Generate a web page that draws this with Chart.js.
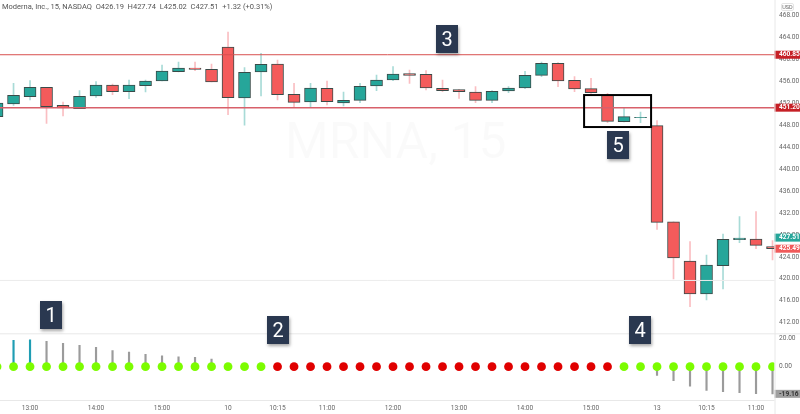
<!DOCTYPE html>
<html>
<head>
<meta charset="utf-8">
<title>MRNA 15</title>
<script src="https://cdn.jsdelivr.net/npm/chart.js@4/dist/chart.umd.min.js"></script>
<style>
body { margin: 0; background: #fff; font-family: Roboto, sans-serif; }
#wrap { position: relative; width: 800px; height: 414px; overflow: hidden; }
#mychart { position: absolute; left: 0; top: 0; }
.mark { position: absolute; color: rgba(0,0,0,0.02); white-space: nowrap; }
#header { position: absolute; left: 2px; top: 2px; font-size: 7.5px; color: #555; white-space: pre; }
#usd { position: absolute; left: 781px; top: 3px; width: 13px; height: 8px; font-size: 5.5px; line-height: 7px; text-align: center; color: #666; border: 1px solid #e4e4e4; border-radius: 2px; box-sizing: border-box; }
.num { position: absolute; width: 22px; height: 28px; background: #2a3850; color: #fff; font-size: 20px; line-height: 28px; text-align: center; box-shadow: 1px 2px 3px rgba(0,0,0,0.35); }
</style>
</head>
<body>
<div id="wrap">
    <div class="mark" style="left:285px;top:112px;font-size:50px">MRNA, 15</div>
    <div class="mark" style="left:312px;top:176px;font-size:23px">Moderna, Inc.</div>
    <canvas id="mychart" width="800" height="414"></canvas>
    <div id="header">Moderna, Inc., 15, NASDAQ  O426.19  H427.74  L425.02  C427.51  +1.32 (+0.31%)</div>
    <div id="usd">USD</div>
    <div class="num" style="left:40px;top:301px">1</div>
    <div class="num" style="left:267px;top:316px">2</div>
    <div class="num" style="left:436px;top:25px">3</div>
    <div class="num" style="left:629px;top:316px">4</div>
    <div class="num" style="left:607px;top:131px">5</div>
</div>
<script>
// candles
const opens = [449.56,451.87,453.20,454.91,451.62,451.02,453.33,455.33,454.11,455.21,456.06,457.76,458.43,458.19,462.26,452.96,457.70,459.16,453.63,452.23,454.72,452.05,452.53,455.15,456.24,457.40,457.27,454.72,454.48,454.05,452.53,454.24,454.78,457.09,459.28,456.18,454.66,453.51,448.65,449.38,447.92,430.41,423.24,417.23,422.39,427.13,427.25,425.86]
const highs = [452.60,455.63,456.12,454.91,452.23,454.30,455.94,455.51,456.24,456.24,458.98,459.52,459.52,459.16,465.00,458.49,461.10,459.89,455.63,455.63,456.06,454.05,455.63,457.15,458.67,458.06,457.94,456.24,454.54,455.03,454.30,455.03,457.82,459.52,459.40,456.85,456.55,453.81,451.26,450.41,448.83,430.41,426.77,424.34,428.17,431.33,432.24,426.95]
const lows = [449.25,451.62,452.60,448.34,449.68,451.02,453.08,453.57,452.84,454.05,456.06,457.70,457.94,455.88,449.92,448.03,453.33,452.60,451.38,451.26,451.68,451.50,452.11,454.30,456.12,455.63,454.42,454.11,452.90,452.11,452.11,453.93,454.66,456.85,455.03,454.11,453.81,448.46,448.59,448.46,429.02,419.96,414.92,416.13,418.14,426.59,425.49,423.43]
const closes = [452.05,453.45,454.91,451.38,451.14,453.26,455.33,454.11,455.33,456.06,457.88,458.43,458.19,455.88,453.02,457.64,459.10,453.57,452.17,454.78,452.29,452.53,455.09,456.24,457.33,457.09,454.78,454.30,454.11,452.53,454.18,454.78,457.09,459.28,456.06,454.60,453.93,448.71,449.56,449.44,430.29,423.79,417.23,422.51,427.19,427.44,426.10,425.49]

// lower pane: momentum stems and squeeze dots
const momentum = [0,18.5,19.0,17.8,16.4,15.0,13.6,11.3,10.3,8.7,7.7,7.0,6.6,5.4,0,0,0,0,0,0,0,0,0,0,0,0,0,0,0,0,0,0,0,0,0,0,0,0,0,0,-6.1,-9.9,-13.8,-16.7,-17.6,-18.3,-19.0,-19.16]
const squeeze = [0,0,0,0,0,0,0,0,0,0,0,0,0,0,0,0,0,0,0,0,0,0,0,0,0,0,0,0,0,0,0,0,0,0,0,0,0,0,0,0,0,0,0,0,0,0,0,0]
const squeezeOn = [0,0,0,0,0,0,0,0,0,0,0,0,0,0,0,0,0,1,1,1,1,1,1,1,1,1,1,1,1,1,1,1,1,1,1,1,1,1,0,0,0,0,0,0,0,0,0,0]

// levels and axis ticks
const levelHigh = 460.85
const levelLow = 451.20
const pricePaneLine = 419.7
const priceTicks = [468,464,460,456,452,448,444,440,436,432,428,424,420,416,412]
const momentumTicks = [20,0]
const timeTickPos = [2,6,10,14,17,20,24,28,32,36,40,43,46]
const timeTickLabels = ['13:00','14:00','15:00','10','10:15','11:00','12:00','13:00','14:00','15:00','13','10:15','11:00']

const priceBadges = [
    { value: levelHigh, color: '#c62026', text: '#fff' },
    { value: levelLow, color: '#c62026', text: '#fff' },
    { value: 427.51, color: '#26a69a', text: '#fff' },
    { value: 425.49, color: '#f05a5a', text: '#fff' }
]
const momentumBadges = [{ value: -19.16, color: '#9f9f9f', text: '#333' }]

const upColor = '#26a69a'
const downColor = '#f45b5b'
const upWick = 'rgba(38,166,154,0.4)'
const downWick = 'rgba(242,70,80,0.35)'

let bodies = []
let wicks = []
let stems = []
let dots = []
let bodyColors = []
let wickColors = []
let stemColors = []
let dotColors = []
for (let i = 0; i < opens.length; i++) {
    bodies.push({ x: i, y: [Math.min(opens[i], closes[i]), Math.max(opens[i], closes[i])] })
    wicks.push({ x: i, y: [lows[i], highs[i]] })
    stems.push({ x: i, y: momentum[i] })
    dots.push({ x: i, y: squeeze[i] })
    let up = closes[i] >= opens[i]
    bodyColors.push(up ? upColor : downColor)
    wickColors.push(up ? upWick : downWick)
    stemColors.push(i == 1 || i == 2 ? '#1f9db3' : '#9b9b9b')
    dotColors.push(squeezeOn[i] ? '#e00000' : '#7cfc00')
}

function levelLine(value, color, width) {
    return {
        type: 'line',
        data: [{ x: 0, y: value }, { x: 48, y: value }],
        yAxisID: 'y',
        borderColor: color,
        borderWidth: width,
        pointRadius: 0,
        order: 1
    }
}

function noPadding(scale) {
    scale.paddingLeft = 0
    scale.paddingRight = 0
    scale.paddingTop = 0
    scale.paddingBottom = 0
}

// price badges on the right axis and the black box round candles 37-39
const overlayPlugin = {
    id: 'overlay',
    afterDraw(chart) {
        const ctx = chart.ctx
        const area = chart.chartArea
        const drawBadge = function (scale, badge) {
            let y = scale.getPixelForValue(badge.value)
            ctx.fillStyle = badge.color
            ctx.fillRect(area.right, y - 4, 800 - area.right, 8)
            ctx.fillStyle = badge.text
            ctx.font = 'bold 6.6px Roboto'
            ctx.textAlign = 'left'
            ctx.textBaseline = 'middle'
            ctx.fillText(badge.value.toFixed(2), area.right + 4.5, y)
        }
        priceBadges.forEach(function (b) { drawBadge(chart.scales.y, b) })
        momentumBadges.forEach(function (b) { drawBadge(chart.scales.y2, b) })

        let x1 = chart.scales.x.getPixelForValue(35.58)
        let x2 = chart.scales.x.getPixelForValue(39.64)
        let y1 = chart.scales.y.getPixelForValue(453.5)
        let y2 = chart.scales.y.getPixelForValue(447.67)
        ctx.strokeStyle = '#000'
        ctx.lineWidth = 2
        ctx.strokeRect(x1, y1, x2 - x1, y2 - y1)

        // pane separators
        ctx.strokeStyle = '#e8e8e8'
        ctx.lineWidth = 1
        ctx.beginPath()
        ctx.moveTo(0, chart.scales.y2.top + 0.5)
        ctx.lineTo(800, chart.scales.y2.top + 0.5)
        ctx.moveTo(0, area.bottom + 0.5)
        ctx.lineTo(area.right, area.bottom + 0.5)
        ctx.moveTo(area.right + 0.5, 0)
        ctx.lineTo(area.right + 0.5, 414)
        ctx.stroke()
    }
}

new Chart(document.getElementById('mychart'), {
    data: {
        datasets: [
            levelLine(levelHigh, '#d8504f', 1),
            levelLine(levelLow, '#d8606a', 1.5),
            levelLine(pricePaneLine, '#ececec', 1),
            {
                type: 'bar',
                data: bodies,
                yAxisID: 'y',
                grouped: false,
                barThickness: 12,
                backgroundColor: bodyColors,
                borderColor: '#3a4a48',
                borderWidth: 1,
                borderSkipped: false,
                order: 2
            },
            {
                type: 'bar',
                data: wicks,
                yAxisID: 'y',
                grouped: false,
                barThickness: 1,
                backgroundColor: wickColors,
                order: 3
            },
            {
                type: 'scatter',
                data: dots,
                yAxisID: 'y2',
                pointRadius: 4.4,
                pointBackgroundColor: dotColors,
                pointBorderWidth: 0,
                order: 4
            },
            {
                type: 'bar',
                data: stems,
                yAxisID: 'y2',
                grouped: false,
                barThickness: 1.5,
                backgroundColor: stemColors,
                order: 5
            }
        ]
    },
    plugins: [overlayPlugin],
    options: {
        responsive: false,
        animation: false,
        layout: { padding: 0, autoPadding: false },
        plugins: {
            legend: { display: false },
            tooltip: { enabled: false }
        },
        scales: {
            x: {
                type: 'linear',
                offset: false,
                min: 0.18,
                max: 47.12,
                grid: { display: false, drawTicks: false },
                border: { display: false },
                afterBuildTicks(scale) {
                    scale.ticks = timeTickPos.map(function (v) { return { value: v } })
                },
                afterFit(scale) {
                    scale.height = 14
                    noPadding(scale)
                },
                ticks: {
                    autoSkip: false,
                    maxRotation: 0,
                    padding: 4,
                    color: '#666',
                    font: { family: 'Roboto', size: 6.6 },
                    callback(value) { return timeTickLabels[timeTickPos.indexOf(value)] }
                }
            },
            y: {
                position: 'right',
                stack: 'panes',
                stackWeight: 5,
                min: 410.06,
                max: 470.83,
                grid: { display: false, drawTicks: false },
                border: { display: false },
                afterBuildTicks(scale) {
                    scale.ticks = priceTicks.map(function (v) { return { value: v } })
                },
                afterFit(scale) {
                    scale.width = 25.5
                    noPadding(scale)
                },
                ticks: {
                    autoSkip: false,
                    padding: 4.5,
                    color: '#666',
                    font: { family: 'Roboto', size: 6.6 },
                    callback(value) { return value.toFixed(2) }
                }
            },
            y2: {
                position: 'right',
                stack: 'panes',
                stackWeight: 1,
                min: -23.5,
                max: 23.5,
                grid: { display: false, drawTicks: false },
                border: { display: false },
                afterBuildTicks(scale) {
                    scale.ticks = momentumTicks.map(function (v) { return { value: v } })
                },
                afterFit(scale) {
                    scale.width = 25.5
                    noPadding(scale)
                },
                ticks: {
                    autoSkip: false,
                    padding: 4.5,
                    color: '#666',
                    font: { family: 'Roboto', size: 6.6 },
                    callback(value) { return value.toFixed(2) }
                }
            }
        }
    }
})
</script>
</body>
</html>
